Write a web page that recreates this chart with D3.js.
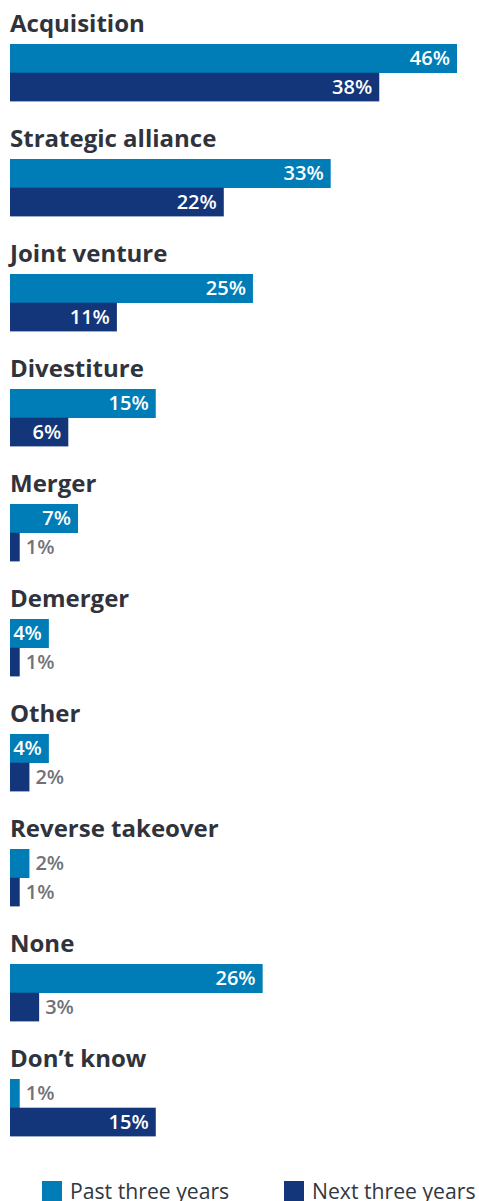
<!DOCTYPE html>
<html><head><meta charset="utf-8">
<script src="https://cdn.jsdelivr.net/npm/d3@7"></script>
<style>
html,body{margin:0;padding:0;background:#fff;}
svg{display:block;font-family:"Open Sans",sans-serif;}
</style></head>
<body><div id="chart"></div>
<script>
const categories = ["Acquisition","Strategic alliance","Joint venture","Divestiture","Merger","Demerger","Other","Reverse takeover","None","Don\u2019t know"];
const pastThreeYears = [46,33,25,15,7,4,4,2,26,1];
const nextThreeYears = [38,22,11,6,1,1,2,1,3,15];
const seriesNames = ["Past three years","Next three years"];
const colors = ["#007DB7","#13357A"];

const W = 479, H = 1201;
const svg = d3.select("#chart").append("svg").attr("width", W).attr("height", H);

const x = d3.scaleLinear().domain([0,46]).range([10,457]);
const groupY = d3.scaleBand().domain(categories).range([0, 1150]).paddingInner(0).paddingOuter(0);
const barH = 28.7;
const labelBase = 32, barTop = 44;

const g = svg.selectAll("g.grp").data(categories).join("g")
  .attr("class","grp")
  .attr("transform", d => `translate(0,${groupY(d)})`);

g.append("text")
  .attr("x", 10).attr("y", labelBase)
  .attr("font-size", 24).attr("font-weight", 700).attr("fill", "#30333c")
  .text(d => d);

const series = [pastThreeYears, nextThreeYears];
series.forEach((vals, si) => {
  g.append("rect")
    .attr("x", x(0))
    .attr("y", barTop + si*barH)
    .attr("width", (d,i) => x(vals[i]) - x(0))
    .attr("height", barH + (si===0?0.3:0))
    .attr("fill", colors[si]);
  g.append("text")
    .attr("x", (d,i) => vals[i] >= 4 ? x(vals[i]) - 7 : x(vals[i]) + 6)
    .attr("y", barTop + si*barH + barH/2 + 7)
    .attr("text-anchor", (d,i) => vals[i] >= 4 ? "end" : "start")
    .attr("font-size", 20).attr("font-weight", 600)
    .attr("fill", (d,i) => vals[i] >= 4 ? "#ffffff" : "#707278")
    .text((d,i) => vals[i] + "%");
});

const legend = svg.append("g").attr("transform","translate(0,1181)");
const legX = [42, 284];
seriesNames.forEach((n, i) => {
  legend.append("rect").attr("x", legX[i]).attr("y", 0).attr("width", 20).attr("height", 20).attr("fill", colors[i]);
  legend.append("text").attr("x", legX[i] + 28).attr("y", 18)
    .attr("font-size", 21.2).attr("fill", "#333740").text(n);
});
</script></body></html>
